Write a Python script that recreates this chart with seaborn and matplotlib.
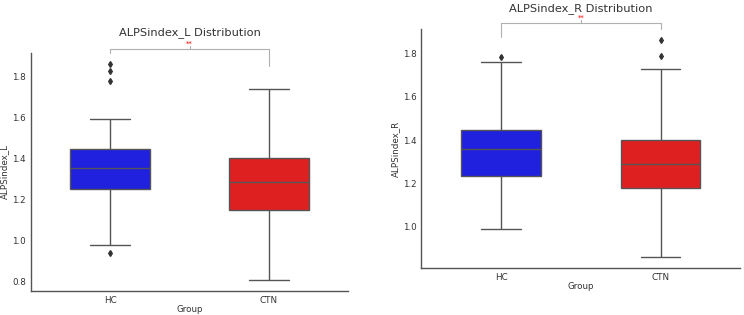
import numpy as np
import pandas as pd
import seaborn as sns
import matplotlib
matplotlib.use("Agg")
import matplotlib.pyplot as plt

# ------------------------------------------------------------------
# Valores (resumo de cada boxplot)
# ------------------------------------------------------------------
grupos = ["HC", "CTN"]

# ALPSindex_L
l_whis_lo = [0.979, 0.81]
l_q1 = [1.252, 1.150]
l_med = [1.354, 1.288]
l_q3 = [1.447, 1.405]
l_whis_hi = [1.592, 1.740]
l_outliers = [[0.939, 1.780, 1.829, 1.862], []]

# ALPSindex_R
r_whis_lo = [0.989, 0.86]
r_q1 = [1.234, 1.180]
r_med = [1.360, 1.289]
r_q3 = [1.448, 1.400]
r_whis_hi = [1.762, 1.727]
r_outliers = [[1.782], [1.789, 1.860]]

TEXT = "#333333"
SPINE = "#555555"
BRACKET = "#b0b0b0"


def montar_amostra(nome, lo, q1, med, q3, hi, outl, k=20):
    """Monta uma amostra cujos quartis/whiskers reproduzem o resumo lido."""
    linhas = []
    for i, g in enumerate(grupos):
        vals = [lo[i]] + [q1[i]] * k + [med[i]] * k + [q3[i]] * k + [hi[i]] + list(outl[i])
        linhas += [(g, v) for v in vals]
    return pd.DataFrame(linhas, columns=["Group", nome])


def desenhar(ax, df, nome, ylim, yticks, chave_y):
    sns.boxplot(
        data=df, x="Group", y=nome, hue="Group", order=grupos,
        palette=["blue", "red"], legend=False, width=0.5, ax=ax,
        linecolor="#555555", linewidth=1.0, whis=1.5,
        flierprops=dict(marker="d", markersize=3, markerfacecolor="#333333",
                        markeredgecolor="#333333"),
    )
    ax.set_ylim(*ylim)
    ax.set_xlim(-0.5, 1.5)
    ax.set_yticks(yticks)
    ax.set_yticklabels([f"{t:.1f}" for t in yticks])
    for s in ["top", "right"]:
        ax.spines[s].set_visible(False)
    for s in ["left", "bottom"]:
        ax.spines[s].set_color(SPINE)
        ax.spines[s].set_linewidth(1.0)
    ax.tick_params(axis="both", labelsize=6.3, colors=TEXT, length=2, width=0.6,
                   color=SPINE, pad=1.5)
    ax.set_xlabel("Group", fontsize=6.3, color=TEXT, labelpad=0)
    ax.set_ylabel(nome, fontsize=6.3, color=TEXT, labelpad=2)
    ax.set_title(f"{nome} Distribution", fontsize=8.2, color=TEXT, pad=13)

    # colchete de significância (**)
    y_bar, y_left, y_right, y_top = chave_y
    ax.plot([0, 0, 1, 1], [y_left, y_bar, y_bar, y_right], color=BRACKET,
            lw=0.8, clip_on=False)
    ax.plot([0.5, 0.5], [y_bar, y_top], color=BRACKET, lw=0.8, clip_on=False)
    ax.text(0.5, y_top - 0.005, "**", color="red", fontsize=5, ha="center", va="bottom",
            clip_on=False)


sns.set_theme(style="white")
plt.rcParams["font.family"] = ["DejaVu Sans"]

fig = plt.figure(figsize=(7.44, 3.15), dpi=100)
W, H = 744, 315
ax1 = fig.add_axes([30.7 / W, 1 - 290.7 / H, 317.6 / W, 237.4 / H])
ax2 = fig.add_axes([421.3 / W, 1 - 267.7 / H, 319 / W, 238.4 / H])

df_l = montar_amostra("ALPSindex_L", l_whis_lo, l_q1, l_med, l_q3, l_whis_hi, l_outliers)
df_r = montar_amostra("ALPSindex_R", r_whis_lo, r_q1, r_med, r_q3, r_whis_hi, r_outliers)

desenhar(ax1, df_l, "ALPSindex_L", (0.756, 1.914), [0.8, 1.0, 1.2, 1.4, 1.6, 1.8],
         (1.934, 1.914, 1.854, 1.95))
desenhar(ax2, df_r, "ALPSindex_R", (0.811, 1.911), [1.0, 1.2, 1.4, 1.6, 1.8],
         (1.942, 1.875, 1.911, 1.956))

fig.savefig("out.png", dpi=100)
